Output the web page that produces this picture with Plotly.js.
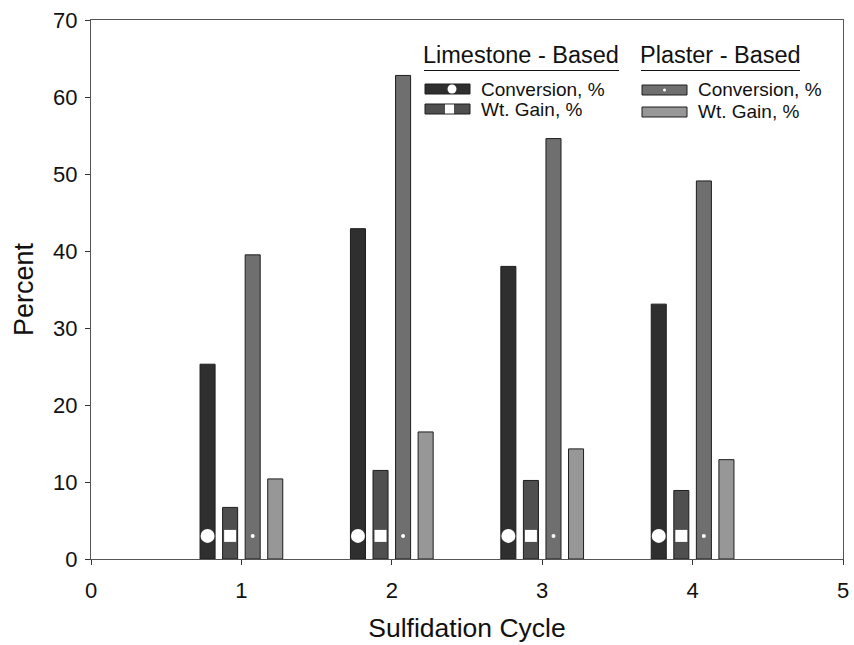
<!DOCTYPE html>
<html>
<head>
<meta charset="utf-8">
<script src="https://cdn.plot.ly/plotly-3.0.1.min.js"></script>
<style>html,body{margin:0;padding:0;background:#fff;}#chart{width:854px;height:645px;}</style>
</head>
<body>
<div id="chart"></div>
<script>
// ---- data ----
const cycles = [1, 2, 3, 4];
const limestoneConversion = [25.3, 42.9, 38.0, 33.1];
const limestoneWtGain = [6.7, 11.5, 10.2, 8.9];
const plasterConversion = [39.5, 62.8, 54.6, 49.1];
const plasterWtGain = [10.4, 16.5, 14.3, 12.9];
const symbolLevel = [3, 3, 3, 3];
const xTicks = [0, 1, 2, 3, 4, 5];
const yTicks = [0, 10, 20, 30, 40, 50, 60, 70];

// ---- styles ----
const FONT = 'Liberation Sans, Arial, sans-serif';
const cLC = '#2f2f2f', cLW = '#4f4f4f', cPC = '#6f6f6f', cPW = '#979797';
const edge = '#1e1e1e';
const offs = [-0.225, -0.075, 0.075, 0.225];

function bar(y, color, name) {
  return {type: 'bar', x: cycles, y: y, name: name,
    marker: {color: color, line: {color: edge, width: 1}}, showlegend: false, hoverinfo: 'y'};
}
function sym(idx, symbol, size) {
  return {type: 'scatter', mode: 'markers', x: cycles.map(c => c + offs[idx]), y: symbolLevel,
    marker: {symbol: symbol, size: size, color: '#ffffff', line: {width: 0}},
    showlegend: false, hoverinfo: 'skip', cliponaxis: false};
}

const data = [
  bar(limestoneConversion, cLC, 'Limestone Conversion, %'),
  bar(limestoneWtGain, cLW, 'Limestone Wt. Gain, %'),
  bar(plasterConversion, cPC, 'Plaster Conversion, %'),
  bar(plasterWtGain, cPW, 'Plaster Wt. Gain, %'),
  sym(0, 'circle', 14),
  sym(1, 'square', 12),
  sym(2, 'circle', 4)
];

// legend built from shapes + annotations (paper coords)
const L = 91, R = 843, T = 20, B = 559;
const px = v => (v - L) / (R - L);
const py = v => (B - v) / (B - T);
function rect(x0, x1, y0, y1, fill, line) {
  return {type: 'rect', xref: 'paper', yref: 'paper', x0: px(x0), x1: px(x1), y0: py(y1), y1: py(y0),
    fillcolor: fill, line: {color: line || edge, width: line === 'none' ? 0 : 1}};
}
const shapes = [
  rect(425, 470, 84, 94, cLC),
  {type: 'circle', xref: 'paper', yref: 'paper', x0: px(447.5), x1: px(456.5), y0: py(93.5), y1: py(84.5), fillcolor: '#fff', line: {width: 0}},
  rect(425, 470, 104, 114, cLW),
  rect(445, 454, 104.5, 113.5, '#ffffff', 'none'),
  rect(642, 687, 85, 95, cPC),
  {type: 'circle', xref: 'paper', yref: 'paper', x0: px(663), x1: px(666), y0: py(91.5), y1: py(88.5), fillcolor: '#fff', line: {width: 0}},
  rect(642, 687, 107, 117, cPW),
  {type: 'line', xref: 'paper', yref: 'paper', x0: px(424), x1: px(619), y0: py(70.5), y1: py(70.5), line: {color: '#111', width: 1.2}},
  {type: 'line', xref: 'paper', yref: 'paper', x0: px(641), x1: px(800), y0: py(70.5), y1: py(70.5), line: {color: '#111', width: 1.2}}
];
function txt(text, x, y, size) {
  return {text: text, xref: 'paper', yref: 'paper', x: px(x), y: py(y), xanchor: 'left', yanchor: 'middle',
    showarrow: false, font: {family: FONT, size: size, color: '#111'}};
}
const annotations = [
  txt('Limestone - Based', 421, 55, 23.5),
  txt('Plaster - Based', 638, 55, 23.5),
  txt('Conversion, %', 479, 89, 19),
  txt('Wt. Gain, %', 479, 109, 19),
  txt('Conversion, %', 696, 89, 19),
  txt('Wt. Gain, %', 696, 112, 19)
];

const axisCommon = {showline: true, linecolor: '#555', linewidth: 1.2, mirror: true, ticks: 'outside',
  ticklen: 5, tickcolor: '#333', showgrid: false, zeroline: false,
  tickfont: {family: FONT, size: 22, color: '#111'}};

const layout = {
  width: 854, height: 645,
  margin: {l: 91, r: 11, t: 20, b: 86},
  paper_bgcolor: '#fff', plot_bgcolor: '#fff',
  barmode: 'group', bargap: 0.4, bargroupgap: 1 / 3,
  showlegend: false,
  xaxis: Object.assign({}, axisCommon, {range: [0, 5], tickvals: xTicks, ticktext: xTicks.map(String),
    ticklabelstandoff: 6,
    title: {text: 'Sulfidation Cycle', font: {family: FONT, size: 26.5, color: '#111'}, standoff: 16}}),
  yaxis: Object.assign({}, axisCommon, {range: [0, 70], tickvals: yTicks, ticktext: yTicks.map(String),
    ticklabelstandoff: 3,
    title: {text: 'Percent', font: {family: FONT, size: 27, color: '#111'}, standoff: 11}}),
  shapes: shapes,
  annotations: annotations
};

Plotly.newPlot('chart', data, layout, {displayModeBar: false, staticPlot: true});
</script>
</body>
</html>
